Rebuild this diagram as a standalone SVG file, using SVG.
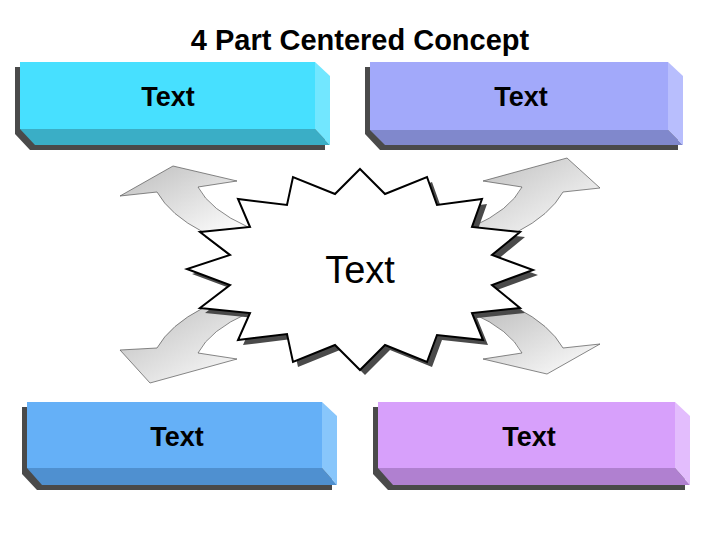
<svg xmlns="http://www.w3.org/2000/svg" width="720" height="540" viewBox="0 0 720 540">
<style>
text{font-family:"Liberation Sans",Arial,sans-serif;fill:#000;text-anchor:middle}
.bt{font-size:27px}
.sh{fill:#4a4a4a}
.arr{fill:url(#g);stroke:#555;stroke-width:0.7}
</style>
<defs>
<linearGradient id="g" x1="0" y1="0" x2="1" y2="1"><stop offset="0" stop-color="#bdbdbd"/><stop offset="1" stop-color="#ffffff"/></linearGradient>
</defs>
<rect width="720" height="540" fill="#fff"/>
<text x="360" y="50" style="font-size:29px" font-weight="bold">4 Part Centered Concept</text>
<g id="connectors">
<path class="arr" d="M120,196 L173,166 L237,181 L198,187 Q210,210 248,227 L203,232 Q170,215 157,192 Z"/>
<path class="arr" d="M600,188 L567,158 L483,181 L522,187 Q510,210 472,227 L517,232 Q550,215 563,192 Z"/>
<path class="arr" d="M120,350 L150,383 L237,359 L198,353 Q210,330 248,313 L203,308 Q170,325 157,348 Z"/>
<path class="arr" d="M600,344 L547,374 L483,359 L522,353 Q510,330 472,313 L517,308 Q550,325 563,348 Z"/>
</g>
<g id="box-tl">
<path class="sh" d="M15,67 H310 L325,83 V150 H30 L15,134 Z"/>
<path fill="#47e0ff" d="M20,62 H315 V129 H20 Z"/>
<path fill="#3aaec6" d="M20,129 H315 L330,145 H35 Z"/>
<path fill="#72e7ff" d="M315,62 L330,76 V145 L315,129 Z"/>
<text class="bt" x="168" y="106" font-weight="bold">Text</text>
</g>
<g id="box-tr">
<path class="sh" d="M365,67 H663 L678,83 V150 H380 L365,134 Z"/>
<path fill="#a2a9fa" d="M370,62 H668 V130 H370 Z"/>
<path fill="#8088cc" d="M370,130 H668 L683,145 H385 Z"/>
<path fill="#b8befd" d="M668,62 L683,76 V145 L668,130 Z"/>
<text class="bt" x="521" y="106" font-weight="bold">Text</text>
</g>
<g id="box-bl">
<path class="sh" d="M22,407 H317 L332,423 V490 H37 L22,474 Z"/>
<path fill="#65b0f7" d="M27,402 H322 V468 H27 Z"/>
<path fill="#4f90d0" d="M27,468 H322 L337,485 H42 Z"/>
<path fill="#88c6fb" d="M322,402 L337,416 V485 L322,468 Z"/>
<text class="bt" x="177" y="446" font-weight="bold">Text</text>
</g>
<g id="box-br">
<path class="sh" d="M373,407 H670 L685,423 V490 H388 L373,474 Z"/>
<path fill="#d7a0fb" d="M378,402 H675 V468 H378 Z"/>
<path fill="#b080d0" d="M378,468 H675 L690,485 H393 Z"/>
<path fill="#e3bdfd" d="M675,402 L690,416 V485 L675,468 Z"/>
<text class="bt" x="529" y="446" font-weight="bold">Text</text>
</g>
<g id="star">
<path class="sh" transform="translate(5,5)" d="M360,169 L385,194 L427,177 L437,205 L482,199 L472,227 L520,232 L492,255 L533,270 L492,285 L520,308 L472,313 L483,340 L437,335 L427,362 L385,345 L360,370 L335,345 L293,362 L287,334 L238,340 L250,313 L200,308 L230,285 L187,269 L230,255 L200,232 L250,227 L238,199 L287,205 L293,177 L335,194 Z"/>
<path fill="#fff" stroke="#000" stroke-width="2" d="M360,169 L385,194 L427,177 L437,205 L482,199 L472,227 L520,232 L492,255 L533,270 L492,285 L520,308 L472,313 L483,340 L437,335 L427,362 L385,345 L360,370 L335,345 L293,362 L287,334 L238,340 L250,313 L200,308 L230,285 L187,269 L230,255 L200,232 L250,227 L238,199 L287,205 L293,177 L335,194 Z"/>
<text x="360" y="283" style="font-size:38px">Text</text>
</g>
</svg>
